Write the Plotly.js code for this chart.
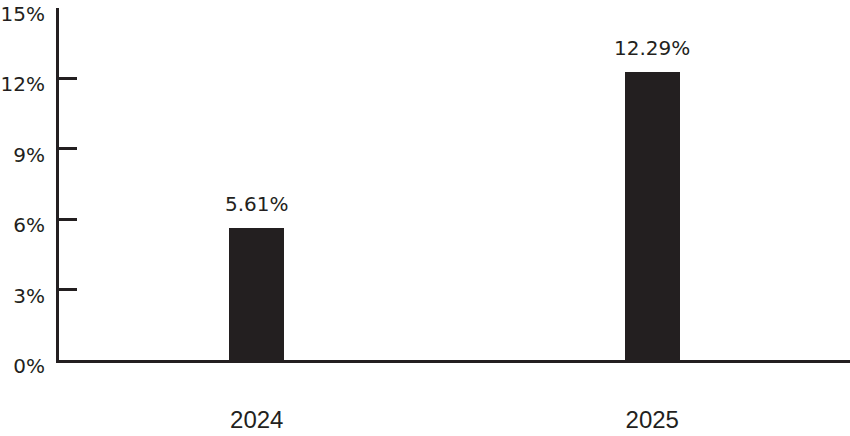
<!DOCTYPE html>
<html>
<head>
<meta charset="utf-8">
<script src="https://cdn.plot.ly/plotly-3.0.1.min.js"></script>
<style>html,body{margin:0;padding:0;background:#fff;}#chart{width:850px;height:436px;}</style>
</head>
<body>
<div id="chart"></div>
<script>
var years = ['2024', '2025'];
var returns = [5.61, 12.29];
var valueLabels = ['5.61%', '12.29%'];
var yTicks = [0, 3, 6, 9, 12, 15];
var yTickText = ['0%', '3%', '6%', '9%', '12%', '15%'];

var ink = '#231f20';

var trace = {
  type: 'bar',
  x: years,
  y: returns,
  width: 0.14,
  marker: {color: ink, line: {width: 0}},
  hoverinfo: 'none'
};

var annotations = years.map(function (yr, i) {
  return {
    x: i, y: returns[i], xref: 'x', yref: 'y',
    text: valueLabels[i], showarrow: false,
    yanchor: 'bottom', yshift: 10,
    font: {family: 'DejaVu Sans', size: 20, color: ink}
  };
});

var layout = {
  width: 850, height: 436,
  margin: {l: 59, r: 0, t: 8, b: 76, pad: 0},
  paper_bgcolor: '#fff', plot_bgcolor: '#fff',
  showlegend: false,
  bargap: 0,
  xaxis: {
    type: 'category',
    range: [-0.5, 1.5],
    showline: true, linecolor: ink, linewidth: 3,
    ticks: '', showgrid: false, zeroline: false,
    ticklabelstandoff: 36,
    tickfont: {family: 'Liberation Sans', size: 24, color: ink}
  },
  yaxis: {
    range: [0, 15],
    tickvals: yTicks, ticktext: yTickText,
    showline: true, linecolor: ink, linewidth: 3,
    ticks: 'inside', ticklen: 18, tickwidth: 3, tickcolor: ink,
    showgrid: false, zeroline: false,
    ticklabelstandoff: 7,
    ticklabelshift: 6,
    tickfont: {family: 'DejaVu Sans', size: 20, color: ink}
  },
  annotations: annotations
};

Plotly.newPlot('chart', [trace], layout, {displayModeBar: false, staticPlot: true});
</script>
</body>
</html>
